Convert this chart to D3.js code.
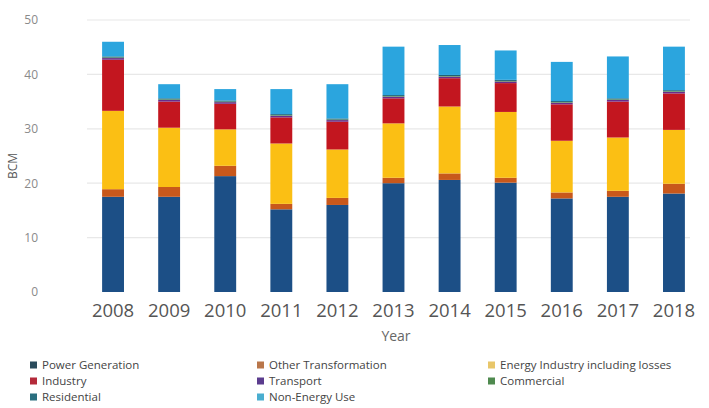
<!DOCTYPE html>
<html>
<head>
<meta charset="utf-8">
<script src="https://cdn.jsdelivr.net/npm/d3@7"></script>
<style>
  html, body { margin: 0; padding: 0; background: #fff; }
  svg { display: block; font-family: "Open Sans", "Noto Sans", sans-serif; }
</style>
</head>
<body>
<svg id="chart" width="709" height="408"></svg>
<script>
const years = ["2008","2009","2010","2011","2012","2013","2014","2015","2016","2017","2018"];
const powerGeneration   = [17.5, 17.5, 21.3, 15.2, 16.0, 20.0, 20.6, 20.1, 17.2, 17.5, 18.1];
const otherTransform    = [1.4, 1.8, 1.9, 1.0, 1.3, 1.0, 1.2, 0.9, 1.1, 1.1, 1.8];
const energyIndustry    = [14.4, 10.9, 6.7, 11.1, 8.9, 10.0, 12.3, 12.1, 9.5, 9.8, 9.9];
const industry          = [9.4, 4.8, 4.7, 4.8, 5.1, 4.6, 5.2, 5.3, 6.7, 6.6, 6.7];
const transport         = [0.3, 0.3, 0.3, 0.3, 0.3, 0.3, 0.3, 0.3, 0.3, 0.3, 0.3];
const commercial        = [0.1, 0.1, 0.1, 0.1, 0.1, 0.1, 0.1, 0.1, 0.1, 0.1, 0.1];
const residential       = [0.2, 0.2, 0.2, 0.2, 0.2, 0.2, 0.2, 0.2, 0.2, 0.2, 0.2];
const nonEnergyUse      = [2.7, 2.6, 2.1, 4.6, 6.3, 8.9, 5.5, 5.4, 7.2, 7.7, 8.0];
const yTicks = [0, 10, 20, 30, 40, 50];

const seriesNames = ["Power Generation","Other Transformation","Energy Industry including losses",
  "Industry","Transport","Commercial","Residential","Non-Energy Use"];
const seriesValues = [powerGeneration, otherTransform, energyIndustry, industry,
  transport, commercial, residential, nonEnergyUse];
const barColors = ["#1c4f86","#c8581b","#fbbf14","#c3161f","#6a2c8a","#5a9a3c","#1f6173","#2ba5de"];
const legendColors = ["#2a4b5c","#b9764a","#e8c66a","#b42a3a","#5b3c8e","#4f8a4f","#2a6f7f","#4aaed0"];
const legendOrder = ["Power Generation","Other Transformation","Energy Industry including losses",
  "Industry","Transport","Commercial","Residential","Non-Energy Use"];

const table = years.map((y, i) => {
  const row = { year: y };
  seriesNames.forEach((s, k) => row[s] = seriesValues[k][i]);
  return row;
});
const stacked = d3.stack().keys(seriesNames)(table);

const svg = d3.select("#chart");
const x = d3.scaleBand().domain(years).range([85, 702]).paddingInner(0.61).paddingOuter(0.305);
const y = d3.scaleLinear().domain([0, 50]).range([292, 20]);

// gridlines
svg.append("g").selectAll("line").data(yTicks.filter(t => t > 0)).join("line")
  .attr("x1", 87).attr("x2", 690)
  .attr("y1", d => y(d)).attr("y2", d => y(d))
  .attr("stroke", "#e8e8e8").attr("stroke-width", 1.2);

// y axis labels
const yAxis = d3.axisLeft(y).tickValues(yTicks).tickSize(0).tickPadding(0);
const gy = svg.append("g").attr("transform", "translate(38,0)").call(yAxis);
gy.select(".domain").remove();
gy.selectAll("text").attr("fill", "#8a8a8a").attr("font-size", 12)
  .attr("font-family", "'Open Sans', sans-serif");

// bars
svg.append("g").selectAll("g").data(stacked).join("g")
  .attr("fill", (d, i) => barColors[i])
  .selectAll("rect").data(d => d).join("rect")
  .attr("x", d => x(d.data.year))
  .attr("width", x.bandwidth())
  .attr("y", d => y(d[1]))
  .attr("height", d => Math.max(0, y(d[0]) - y(d[1])));

// x axis labels
const xAxis = d3.axisBottom(x).tickSize(0).tickPadding(0);
const gx = svg.append("g").attr("transform", "translate(0,304)").call(xAxis);
gx.select(".domain").remove();
gx.selectAll("text").attr("fill", "#555").attr("font-size", 18.5).attr("dy", "0.71em")
  .attr("font-family", "'Open Sans', sans-serif");

// axis titles
svg.append("text").attr("x", 396).attr("y", 341).attr("text-anchor", "middle")
  .attr("fill", "#666").attr("font-size", 14).text("Year");
svg.append("text").attr("transform", "translate(17,166) rotate(-90)").attr("text-anchor", "middle")
  .attr("fill", "#555").attr("font-size", 12).text("BCM");

// legend
const colX = [30, 257, 488];
const rowY = [365, 381, 397];
const lg = svg.append("g").selectAll("g").data(legendOrder).join("g")
  .attr("transform", (d, i) => `translate(${colX[i % 3]},${rowY[Math.floor(i / 3)]})`);
lg.append("rect").attr("x", 0).attr("y", -3.5).attr("width", 7).attr("height", 7)
  .attr("fill", d => legendColors[seriesNames.indexOf(d)]);
lg.append("text").attr("x", 12).attr("y", 0).attr("dy", "0.35em")
  .attr("fill", "#444").attr("font-size", 11.5).text(d => d);
</script>
</body>
</html>
